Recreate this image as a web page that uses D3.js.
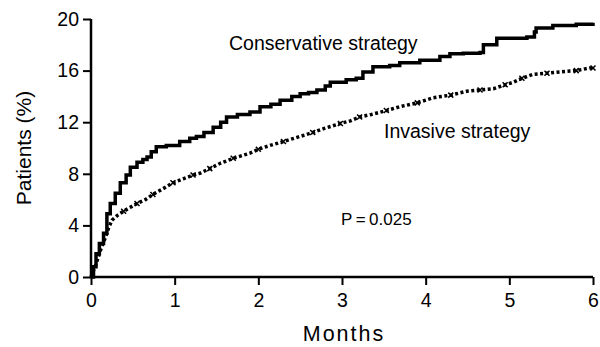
<!DOCTYPE html>
<html>
<head>
<meta charset="utf-8">
<script src="https://cdn.jsdelivr.net/npm/d3@7"></script>
<style>
  body { margin: 0; background: #fff; }
  svg { display: block; font-family: "Liberation Sans", Arial, sans-serif; }
</style>
</head>
<body>
<svg id="chart" width="600" height="347"></svg>
<script>
// Kaplan-Meier style cumulative event curves
var consMonths = [0, 0.03, 0.06, 0.1, 0.15, 0.19, 0.23, 0.29, 0.35, 0.42, 0.47, 0.55, 0.62, 0.67, 0.72, 0.78, 0.9,
    1.06, 1.18, 1.26, 1.35, 1.46, 1.55, 1.62, 1.75, 1.9, 2.02, 2.15, 2.26, 2.4, 2.5, 2.6, 2.7, 2.8, 2.86,
    3.05, 3.17, 3.25, 3.37, 3.57, 3.69, 3.93, 4.17, 4.29, 4.45, 4.65, 4.69, 4.85, 5.21, 5.3, 5.32, 5.52, 5.8, 6.0];
var consValues = [0, 0.8, 1.8, 2.6, 3.4, 4.9, 5.7, 6.5, 7.3, 7.9, 8.5, 8.9, 9.1, 9.3, 9.7, 10.1, 10.2,
    10.5, 10.75, 10.9, 11.2, 11.6, 12.0, 12.4, 12.6, 12.8, 13.2, 13.4, 13.7, 14.0, 14.2, 14.3, 14.5, 14.8, 15.1,
    15.3, 15.4, 15.9, 16.3, 16.4, 16.6, 16.8, 17.1, 17.3, 17.35, 17.4, 18.0, 18.5, 18.6, 19.0, 19.3, 19.5, 19.6, 19.7];

var invMonths = [0, 0.03, 0.06, 0.09, 0.12, 0.15, 0.18, 0.21, 0.25, 0.32, 0.39, 0.47, 0.55, 0.65, 0.74,
    0.85, 0.98, 1.1, 1.22, 1.3, 1.42, 1.54, 1.7, 1.9, 2.0, 2.14, 2.3, 2.5, 2.65, 2.78, 2.98, 3.1, 3.21,
    3.35, 3.53, 3.69, 3.9, 4.09, 4.3, 4.49, 4.65, 4.81, 4.95, 5.05, 5.15, 5.28, 5.45, 5.6, 5.8, 5.96, 6.0];
var invValues = [0, 0.5, 1.0, 1.6, 2.2, 2.7, 3.2, 3.8, 4.4, 4.8, 5.1, 5.4, 5.7, 6.0, 6.4,
    6.8, 7.3, 7.6, 7.9, 8.04, 8.4, 8.8, 9.2, 9.6, 9.9, 10.2, 10.5, 10.9, 11.2, 11.5, 11.9, 12.1, 12.4,
    12.6, 12.9, 13.2, 13.5, 13.9, 14.1, 14.4, 14.5, 14.6, 14.9, 15.1, 15.4, 15.7, 15.8, 15.9, 16.0, 16.2, 16.2];

var xTicks = [0, 1, 2, 3, 4, 5, 6];
var yTicks = [0, 4, 8, 12, 16, 20];

var svg = d3.select('#chart');

var x = d3.scaleLinear().domain([0, 6]).range([91, 593]);
var y = d3.scaleLinear().domain([0, 20]).range([277, 19]);

var cons = consMonths.map(function(m, i) { return [m, consValues[i]]; });
var inv = invMonths.map(function(m, i) { return [m, invValues[i]]; });

// axes
var xAxis = svg.append('g')
    .attr('transform', 'translate(0,' + y(0) + ')')
    .call(d3.axisBottom(x).tickValues(xTicks).tickSize(8).tickPadding(8).tickFormat(d3.format('d')));
var yAxis = svg.append('g')
    .attr('transform', 'translate(' + x(0) + ',0)')
    .call(d3.axisLeft(y).tickValues(yTicks).tickSize(8).tickPadding(4).tickFormat(d3.format('d')));

[xAxis, yAxis].forEach(function(ax) {
    ax.select('.domain').attr('stroke', '#000').attr('stroke-width', 2.5);
    ax.selectAll('.tick line').attr('stroke', '#000').attr('stroke-width', 2);
    ax.selectAll('.tick text')
        .attr('fill', '#000')
        .style('font-family', '"Liberation Sans", Arial, sans-serif')
        .style('font-size', '19.5px');
});
// no outer tick stubs at the domain ends
xAxis.select('.domain').attr('d', 'M' + x(0) + ',0H' + x(6));
yAxis.select('.domain').attr('d', 'M0,' + y(20) + 'V' + y(0));

// curves
var stepLine = d3.line()
    .x(function(d) { return x(d[0]); })
    .y(function(d) { return y(d[1]); })
    .curve(d3.curveStepAfter);

var plainLine = d3.line()
    .x(function(d) { return x(d[0]); })
    .y(function(d) { return y(d[1]); });

svg.append('path')
    .datum(inv)
    .attr('fill', 'none')
    .attr('stroke', '#000')
    .attr('stroke-width', 3.5)
    .attr('stroke-dasharray', '3,2.5')
    .attr('d', plainLine);

// small x markers along the invasive curve
svg.append('g').selectAll('path.mark')
    .data(inv.filter(function(d, i) { return i > 8 && i % 2 === 0; }))
  .enter().append('path')
    .classed('mark', true)
    .attr('transform', function(d) { return 'translate(' + x(d[0]) + ',' + y(d[1]) + ')'; })
    .attr('d', 'M-2.5,-2.5L2.5,2.5M-2.5,2.5L2.5,-2.5')
    .attr('stroke', '#000')
    .attr('stroke-width', 1.5);

svg.append('path')
    .datum(cons)
    .attr('fill', 'none')
    .attr('stroke', '#000')
    .attr('stroke-width', 3.5)
    .attr('d', stepLine);

// annotations
svg.append('text')
    .attr('x', 229).attr('y', 50)
    .style('font-size', '19.5px')
    .text('Conservative strategy');

svg.append('text')
    .attr('x', 384).attr('y', 138)
    .style('font-size', '19.5px')
    .text('Invasive strategy');

svg.append('text')
    .attr('x', 341).attr('y', 225)
    .style('font-size', '17px')
    .text('P\u2009=\u20090.025');

// axis titles
svg.append('text')
    .attr('x', 344).attr('y', 341)
    .attr('text-anchor', 'middle')
    .style('font-size', '21.5px')
    .style('letter-spacing', '2px')
    .text('Months');

svg.append('text')
    .attr('transform', 'translate(31,' + ((y(0) + y(20)) / 2) + ') rotate(-90)')
    .attr('text-anchor', 'middle')
    .style('font-size', '21px')
    .text('Patients (%)');
</script>
</body>
</html>
